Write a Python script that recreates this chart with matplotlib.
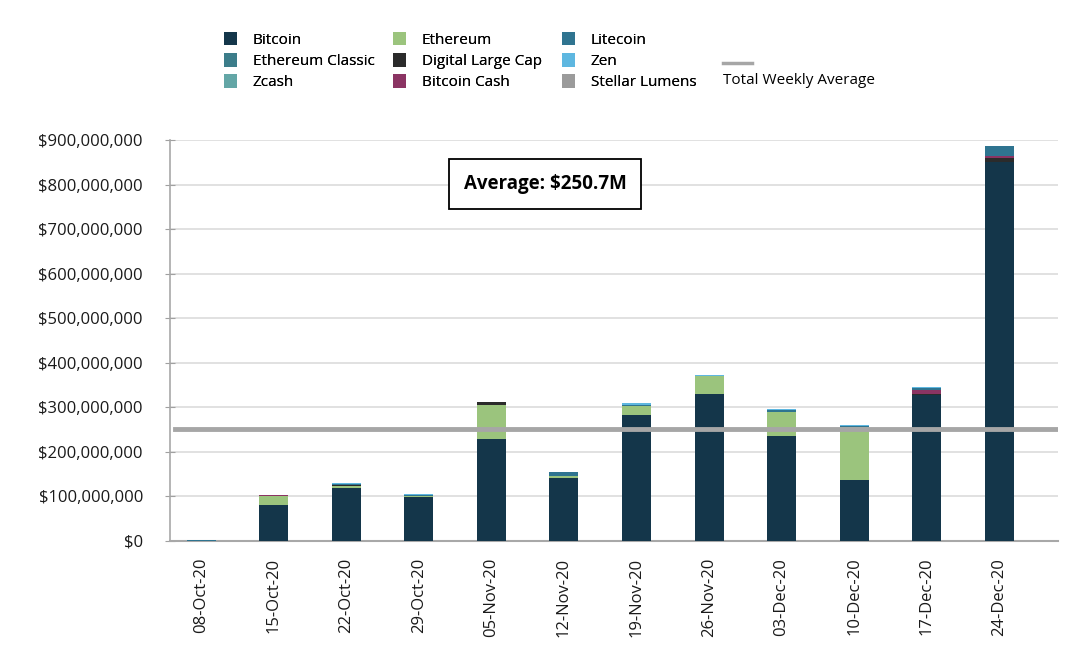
import matplotlib
matplotlib.use("Agg")
import matplotlib.pyplot as plt
import numpy as np
from matplotlib.patches import Patch
from matplotlib.lines import Line2D
from matplotlib.ticker import FuncFormatter

plt.rcParams['font.family'] = ['Open Sans', 'DejaVu Sans']

weeks = ["08-Oct-20", "15-Oct-20", "22-Oct-20", "29-Oct-20", "05-Nov-20", "12-Nov-20",
         "19-Nov-20", "26-Nov-20", "03-Dec-20", "10-Dec-20", "17-Dec-20", "24-Dec-20"]

# values in millions USD
bitcoin           = [0,   81, 118, 98, 228, 141, 283, 331, 236, 137, 328, 850]
ethereum          = [0,   21,   6,  4,  78,   5,  19,  40,  54, 119,   0,   0]
digital_large_cap = [0,    0,   2,  0,   5,   0,   0,   0,   0,   0,   1,   9]
bitcoin_cash      = [0,    1,   0,  0,   0,   0,   0,   0,   0,   0,  10,   5]
ethereum_classic  = [0.5,  0,   0,  0,   0,   0,   0,   0,   0,   0,   0,   0]
litecoin          = [1,    0,   3,  2,   2,   9,   4,   0,   4,   1,   4,  23]
zcash             = [1.5,  0,   0,  0,   0,   0,   0,   0,   0,   0,   0,   0]
zen               = [0,    0,   1,  2,   0,   0,   3,   1,   2,   3,   3,   0]
stellar_lumens    = [0,    0,   0,  0,   0,   0,   0,   0,   0,   0,   0,   0]

weekly_average = 250.7  # millions

series = [
    ("Bitcoin", bitcoin, "#14364a"),
    ("Ethereum", ethereum, "#9bc47d"),
    ("Digital Large Cap", digital_large_cap, "#2b2b2b"),
    ("Bitcoin Cash", bitcoin_cash, "#8b3463"),
    ("Ethereum Classic", ethereum_classic, "#3c7d8a"),
    ("Litecoin", litecoin, "#2f7490"),
    ("Zcash", zcash, "#63a6a6"),
    ("Zen", zen, "#5eb7e0"),
    ("Stellar Lumens", stellar_lumens, "#9b9b9b"),
]
colors = {name: c for name, _, c in series}

fig = plt.figure(figsize=(10.8, 6.69), dpi=100)
ax = fig.add_axes([170/1080, 1-541/669, (1058-170)/1080, (541-140)/669])

x = np.arange(len(weeks))
bottom = np.zeros(len(weeks))
for name, vals, col in series:
    v = np.array(vals, dtype=float) * 1e6
    ax.bar(x, v, width=0.4, bottom=bottom, color=col, edgecolor="none",
           linewidth=0, zorder=3)
    bottom += v

ax.axhline(weekly_average * 1e6, xmin=0.006, xmax=1.0, color="#a6a6a6", linewidth=3.5, zorder=4)

ax.set_xlim(-0.43, 11.81)
ax.set_ylim(0, 900e6)
ax.set_yticks(np.arange(0, 900e6 + 1, 100e6))
ax.yaxis.set_major_formatter(FuncFormatter(lambda v, p: "${:,.0f}".format(v)))
ax.set_xticks(x)
ax.set_xticklabels(weeks, rotation=90, fontsize=12, color="#1a1a1a")
ax.tick_params(axis="x", length=0, pad=12)
ax.tick_params(axis="y", direction="inout", length=7, color="#a0a0a0", labelsize=12,
               labelcolor="#1a1a1a", pad=16)
ax.grid(axis="y", color="#dcdcdc", linewidth=1.2, zorder=0)
for s in ["top", "right"]:
    ax.spines[s].set_visible(False)
ax.spines["left"].set_color("#a8a8a8")
ax.spines["left"].set_linewidth(1.2)
ax.spines["bottom"].set_color("#a8a8a8")
ax.spines["bottom"].set_linewidth(1.5)

ax.text(4.74, 801e6, "Average: ${:.1f}M".format(weekly_average), fontsize=13.5,
        fontweight="bold", ha="center", va="center", zorder=6,
        bbox=dict(boxstyle="square,pad=0.8", facecolor="white", edgecolor="black", linewidth=1.3))

columns = [
    (["Bitcoin", "Ethereum Classic", "Zcash"], 219),
    (["Ethereum", "Digital Large Cap", "Bitcoin Cash"], 388),
    (["Litecoin", "Zen", "Stellar Lumens"], 557),
]
for names, xpx in columns:
    handles = [Patch(facecolor=colors[n], edgecolor="none", label=n) for n in names]
    lg = fig.legend(handles=handles, loc="upper left",
                    bbox_to_anchor=(xpx/1080, 1-27/669), frameon=False, fontsize=11,
                    handlelength=0.9, handleheight=1.0, handletextpad=1.0,
                    labelspacing=0.35, borderaxespad=0, borderpad=0.3)
    fig.add_artist(lg)

fig.add_artist(Line2D([723/1080, 752/1080], [1-63/669, 1-63/669],
                      transform=fig.transFigure, color="#a6a6a6", linewidth=2.5))
fig.text(723/1080, 1-81/669, "Total Weekly Average", fontsize=11, va="center", ha="left")

fig.savefig("out.png", dpi=100)
